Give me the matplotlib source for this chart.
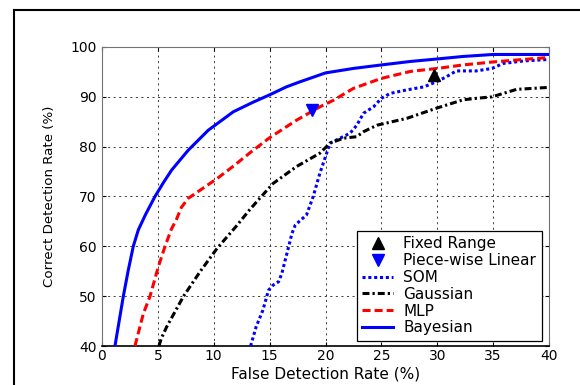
import matplotlib
matplotlib.use("Agg")
import matplotlib.pyplot as plt
from matplotlib.lines import Line2D

plt.rcParams['font.family'] = ['DejaVu Sans']
plt.rcParams['lines.scale_dashes'] = False

# ---- data ----
bayes_x = [1.16, 1.61, 1.91, 2.35, 2.8, 3.25, 3.9, 4.74, 5.5, 6.23, 7.72, 9.51,
           11.75, 13.5, 15.0, 16.5, 17.7, 20, 22.5, 25, 27.6, 30, 32.3, 35, 40]
bayes_y = [40, 46, 50, 55.2, 60, 63.3, 66.4, 70.0, 72.8, 75.3, 79.3, 83.3,
           87, 88.9, 90.4, 92, 93, 94.8, 95.7, 96.4, 97.1, 97.6, 98.1, 98.5, 98.5]

mlp_x = [2.95, 3.7, 4.3, 5.04, 5.64, 6.2, 6.68, 7.1, 7.7, 8.8, 10.3, 11.7, 13.2, 15, 17.4,
         19.5, 20.7, 22.5, 25, 27.6, 30, 32.3, 35, 37.7, 40]
mlp_y = [40, 46.5, 50, 55.9, 60, 63.4, 65.5, 67.8, 69.6, 71.3, 73.6, 76, 78.7, 81.8, 85.3,
         88, 89.3, 91.7, 93.7, 95.1, 95.7, 96.4, 97.0, 97.5, 97.9]

gauss_x = [5.1, 5.3, 5.8, 7.3, 8.8, 10.3, 12.0, 13.2, 14.1, 15.3, 17.4, 19.5, 20.4, 21.6,
           22.8, 23.4, 24.6, 27.3, 29.9, 32.3, 33.5, 34.9, 37.1, 40]
gauss_y = [40, 41.5, 43.9, 50, 55, 59.6, 64, 67.3, 69.6, 72.6, 76, 78.7, 80.7, 81.7,
           82, 83, 84.3, 85.7, 87.7, 89.4, 89.7, 90.0, 91.5, 91.9]

som_x = [13.3, 13.8, 14.4, 14.9, 15.3, 15.8, 16.1, 16.4, 16.7, 17.0, 17.3, 18.3, 18.9, 19.5,
         20.0, 20.4, 21.3, 22.2, 22.8, 23.4, 24.3, 25.0, 25.8, 27.3, 28.8, 29.9, 30.8, 31.7,
         33.5, 34.9, 35.9, 37.7, 40]
som_y = [40, 43.9, 47.2, 51.2, 52.2, 52.9, 54.6, 57.3, 59.9, 62.6, 64.3, 66.3, 70, 74.7,
         78, 80.7, 81.7, 82.7, 84.3, 86.7, 88, 89.7, 90.7, 91.4, 92, 93, 94, 95.2,
         95.2, 95.7, 96.7, 97.2, 97.5]

fixed_x, fixed_y = [29.7], [94.4]
pwl_x, pwl_y = [18.8], [87.4]

xticks = [0, 5, 10, 15, 20, 25, 30, 35, 40]
yticks = [40, 50, 60, 70, 80, 90, 100]

# ---- figure ----
fig = plt.figure(figsize=(5.8, 3.85), dpi=100)
ax = fig.add_axes([102/580, 1-346/385, (549-102)/580, (346-47)/385])

lw = 2.2
ax.plot(fixed_x, fixed_y, linestyle='none', marker='^', color='black', markersize=8,
        label='Fixed Range', zorder=5)
ax.plot(pwl_x, pwl_y, linestyle='none', marker='v', color='#0000ff', markersize=8,
        label='Piece-wise Linear', zorder=5)
ax.plot(som_x, som_y, color='#0000ff', lw=lw, linestyle=(0, (2.2, 2.0)),
        label='SOM', zorder=3)
ax.plot(gauss_x, gauss_y, color='black', lw=lw, linestyle=(0, (5.0, 2.2, 1.6, 2.2)),
        label='Gaussian', zorder=3)
ax.plot(mlp_x, mlp_y, color='#ff0000', lw=lw, linestyle=(0, (5.8, 2.9)),
        label='MLP', zorder=3)
ax.plot(bayes_x, bayes_y, color='#0000ff', lw=lw, linestyle='-',
        label='Bayesian', zorder=4)

ax.set_xlim(0, 40)
ax.set_ylim(40, 100)
ax.set_xticks(xticks)
ax.set_yticks(yticks)
ax.tick_params(direction='in', length=3, width=0.8, top=True, right=True,
               labelsize=10, colors='black')
ax.tick_params(axis='x', pad=2)
ax.tick_params(axis='y', pad=4)
ax.grid(True, color='0.25', linestyle=(0, (1.5, 2.5)), linewidth=0.7)

for s in ['left', 'top', 'right']:
    ax.spines[s].set_color('0.45')
    ax.spines[s].set_linewidth(0.8)
ax.spines['bottom'].set_color('black')
ax.spines['bottom'].set_linewidth(1.2)

ax.set_xlabel('False Detection Rate (%)', fontsize=11, labelpad=3)
ax.set_ylabel('Correct Detection Rate (%)', fontsize=9.6, labelpad=10)

leg = ax.legend(loc='lower right', bbox_to_anchor=((541.7-102)/447, (346-340.7)/299),
                borderaxespad=0, fontsize=11, frameon=True, fancybox=False,
                edgecolor='black', framealpha=1, handlelength=2.0,
                handletextpad=0.7, labelspacing=0.12, borderpad=0.35)
leg.get_frame().set_linewidth(0.9)

# page frame
fig.add_artist(Line2D([13.5/580, 13.5/580], [0, 1-10.3/385], color='black', lw=1.5,
                      transform=fig.transFigure))
fig.add_artist(Line2D([13.5/580, 1], [1-10.3/385, 1-10.3/385], color='black', lw=1.5,
                      transform=fig.transFigure))

fig.savefig('out.png', dpi=100)
